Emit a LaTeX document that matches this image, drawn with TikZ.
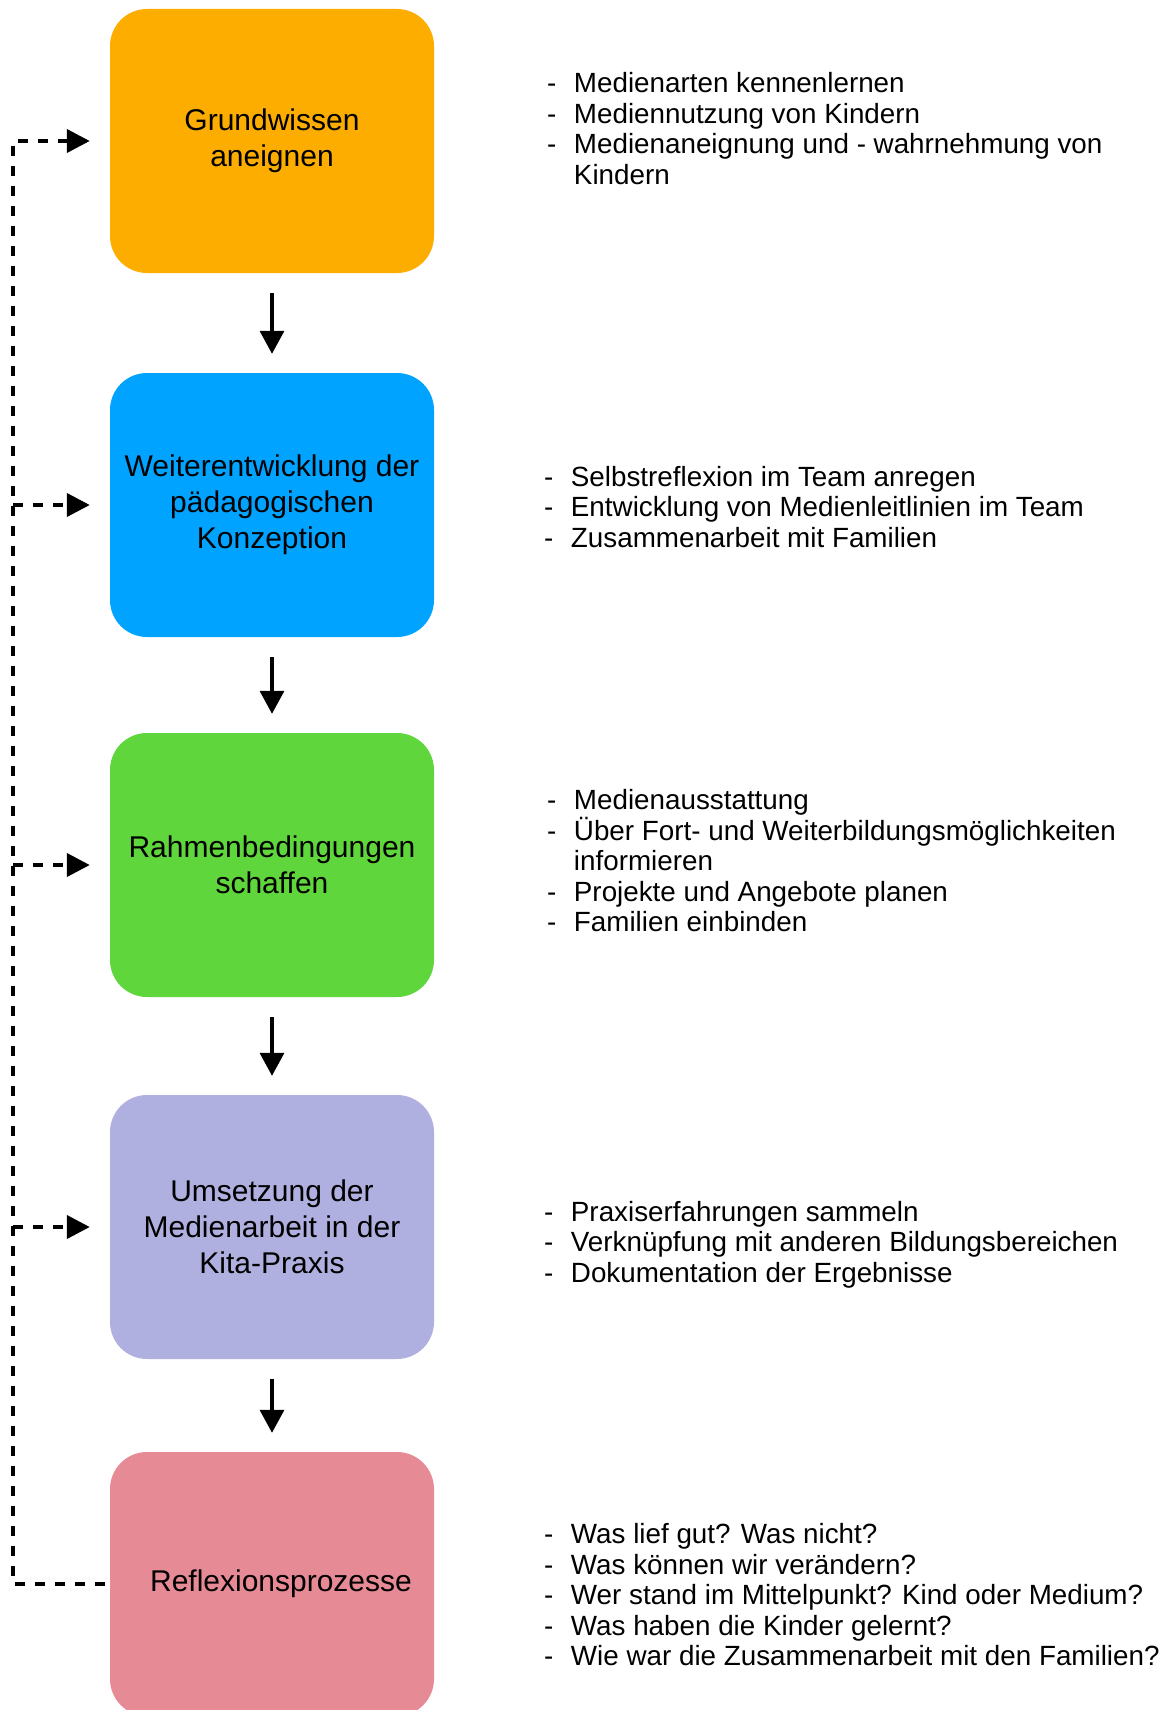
\documentclass[tikz,border=0pt]{standalone}
\usepackage{fontspec}
\setmainfont{Liberation Sans}
\usetikzlibrary{arrows.meta}
\definecolor{mkOrange}{HTML}{FDAD00}
\definecolor{mkBlue}{HTML}{00A3FF}
\definecolor{mkGreen}{HTML}{5FD63B}
\definecolor{mkLavender}{HTML}{B0B0E0}
\definecolor{mkRose}{HTML}{E68A95}
\tikzset{
  mk box/.style={rectangle, rounded corners=37pt, minimum width=324pt, minimum height=264pt, inner sep=0pt, align=center, font=\fontsize{30}{36}\selectfont},
  mk step/.style={draw=black, line width=3.5pt, -{Triangle[length=23pt, width=24pt]}, shorten <=20pt, shorten >=19pt},
  mk loop/.style={draw=black, line width=4pt, dash pattern=on 9.5pt off 10.5pt},
  mk loop tip/.style={-{Triangle[length=23pt, width=23pt]}, shorten >=20pt},
  mk list/.style={anchor=west, inner sep=0pt, align=left, font=\fontsize{27.8}{30.5}\selectfont},
}

\begin{document}
\begin{tikzpicture}[x=1pt, y=-1pt]
  \useasboundingbox (0,0) rectangle (1170,1710);

  % The five phases, one above the other
  \node[mk box, fill=mkOrange] (grund) at (272,141) {Grundwissen\\aneignen};
  \node[mk box, fill=mkBlue] (weiter) at (272,505) {Weiterentwicklung der\\pädagogischen\\Konzeption};
  \node[mk box, fill=mkGreen] (rahmen) at (272,865) {Rahmenbedingungen\\schaffen};
  \node[mk box, fill=mkLavender] (umsetz) at (272,1227) {Umsetzung der\\Medienarbeit in der\\Kita-Praxis};
  \node[mk box, fill=mkRose] (reflex) at (272,1584) {\hspace*{18pt}Reflexionsprozesse};

  % Steps downwards
  \draw[mk step] (grund) -- (weiter);
  \draw[mk step] (weiter) -- (rahmen);
  \draw[mk step] (rahmen) -- (umsetz);
  \draw[mk step] (umsetz) -- (reflex);

  % Feedback line on the left
  \coordinate (loopGrund) at (13,141);
  \coordinate (loopWeiter) at (13,505);
  \coordinate (loopRahmen) at (13,865);
  \coordinate (loopUmsetz) at (13,1227);
  \coordinate (loopReflex) at (13,1584);
  \draw[mk loop, mk loop tip, shorten <=5pt] (reflex.west) -- (loopReflex) -- (loopGrund) -- (grund.west);
  \draw[mk loop, mk loop tip] (loopWeiter) -- (weiter.west);
  \draw[mk loop, mk loop tip] (loopRahmen) -- (rahmen.west);
  \draw[mk loop, mk loop tip] (loopUmsetz) -- (umsetz.west);

  % Lists of tasks on the right
  \node[mk list] (grundList) at (547,132.5) {\begin{tabular}{@{}l@{\hspace{17.5pt}}l@{}}
    - & Medienarten kennenlernen\\
    - & Mediennutzung von Kindern\\
    - & Medienaneignung und - wahrnehmung von\\
      & Kindern
  \end{tabular}};
  \node[mk list] (weiterList) at (544,510.5) {\begin{tabular}{@{}l@{\hspace{17.5pt}}l@{}}
    - & Selbstreflexion im Team anregen\\
    - & Entwicklung von Medienleitlinien im Team\\
    - & Zusammenarbeit mit Familien
  \end{tabular}};
  \node[mk list] (rahmenList) at (547,864.5) {\begin{tabular}{@{}l@{\hspace{17.5pt}}l@{}}
    - & Medienausstattung\\
    - & \smash{Ü}ber Fort- und Weiterbildungsmöglichkeiten\\
      & informieren\\
    - & Projekte und Angebote planen\\
    - & Familien einbinden
  \end{tabular}};
  \node[mk list] (umsetzList) at (544,1245.5) {\begin{tabular}{@{}l@{\hspace{17.5pt}}l@{}}
    - & Praxiserfahrungen sammeln\\
    - & Verknüpfung mit anderen Bildungsbereichen\\
    - & Dokumentation der Ergebnisse
  \end{tabular}};
  \node[mk list] (reflexList) at (544,1598.5) {\begin{tabular}{@{}l@{\hspace{17.5pt}}l@{}}
    - & Was lief gut? Was nicht?\\
    - & Was können wir verändern?\\
    - & Wer stand im Mittelpunkt? Kind oder Medium?\\
    - & Was haben die Kinder gelernt?\\
    - & Wie war die Zusammenarbeit mit den Familien?
  \end{tabular}};
\end{tikzpicture}
\end{document}
